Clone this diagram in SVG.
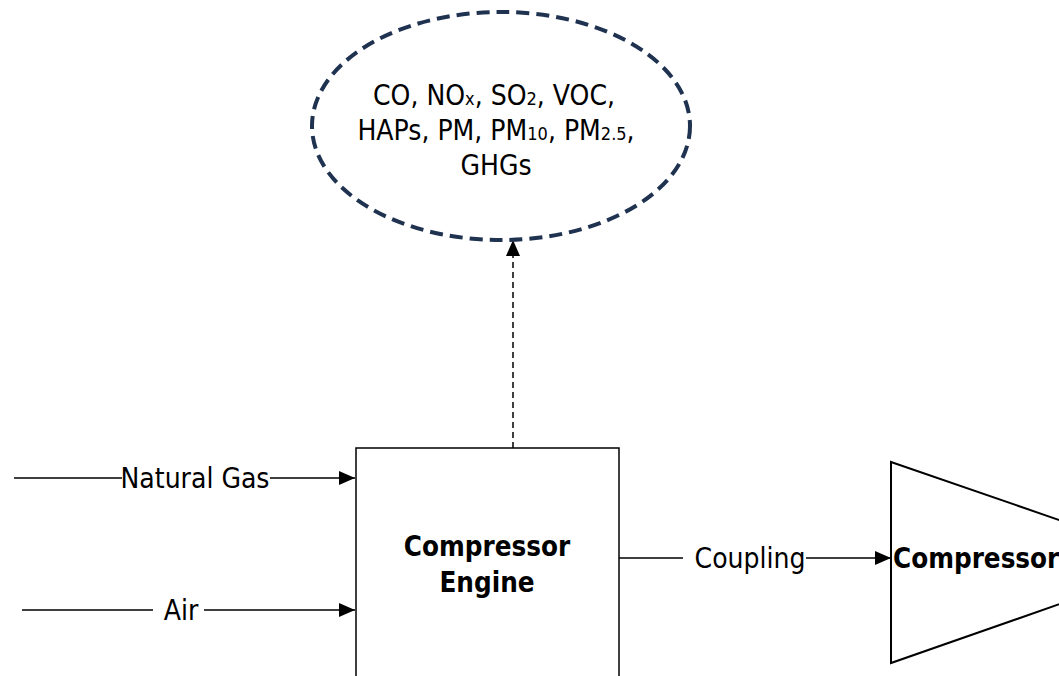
<svg xmlns="http://www.w3.org/2000/svg" width="1059" height="676" viewBox="0 0 1059 676">
<defs>
<marker id="arr2" markerWidth="16" markerHeight="14" refX="16" refY="7" orient="auto" markerUnits="userSpaceOnUse"><path d="M0,0 L16,7 L0,14 Z" fill="#000"/></marker>
</defs>
<style>
.t{font-family:"DejaVu Sans Condensed","Liberation Sans",sans-serif;fill:#000}
.ln{stroke:#000;stroke-width:1.5;fill:none}
</style>
<rect width="1059" height="676" fill="#fff"/>
<g id="connectors">
<line class="ln" x1="14" y1="478" x2="122" y2="478"/>
<line class="ln" x1="270" y1="478" x2="355" y2="478" marker-end="url(#arr2)"/>
<line class="ln" x1="22" y1="610" x2="153" y2="610"/>
<line class="ln" x1="204" y1="610" x2="355" y2="610" marker-end="url(#arr2)"/>
<line class="ln" x1="619" y1="558" x2="683" y2="558"/>
<line class="ln" x1="806" y1="558" x2="891" y2="558" marker-end="url(#arr2)"/>
<line x1="513" y1="448" x2="513" y2="240" stroke="#000" stroke-width="1.5" stroke-dasharray="6,4" marker-end="url(#arr2)"/>
<text class="t" x="195" y="488" font-size="28" text-anchor="middle">Natural Gas</text>
<text class="t" x="181" y="620" font-size="28" text-anchor="middle">Air</text>
<text class="t" x="750" y="568" font-size="28" text-anchor="middle">Coupling</text>
</g>
<g id="emissions">
<ellipse cx="501" cy="126" rx="189" ry="114" fill="#fff" stroke="#1f3250" stroke-width="4" stroke-dasharray="13,7"/>
<text class="t" font-size="28" text-anchor="middle"><tspan x="494" y="105">CO, NO<tspan font-size="18">x</tspan>, SO<tspan font-size="18">2</tspan>, VOC,</tspan><tspan x="496" y="140">HAPs, PM, PM<tspan font-size="18">10</tspan>, PM<tspan font-size="18">2.5</tspan>,</tspan><tspan x="496" y="175">GHGs</tspan></text>
</g>
<g id="engine">
<rect x="356" y="448" width="263" height="240" fill="#fff" stroke="#000" stroke-width="1.5"/>
<text class="t" font-size="27.5" font-weight="bold" text-anchor="middle"><tspan x="487" y="556">Compressor</tspan><tspan x="487" y="592">Engine</tspan></text>
</g>
<g id="compressor">
<polygon points="891,462 1120,541 1120,583 891,663" fill="#fff" stroke="#000" stroke-width="2"/>
<text class="t" x="893" y="568" font-size="27.5" font-weight="bold">Compressor</text>
</g>
</svg>
